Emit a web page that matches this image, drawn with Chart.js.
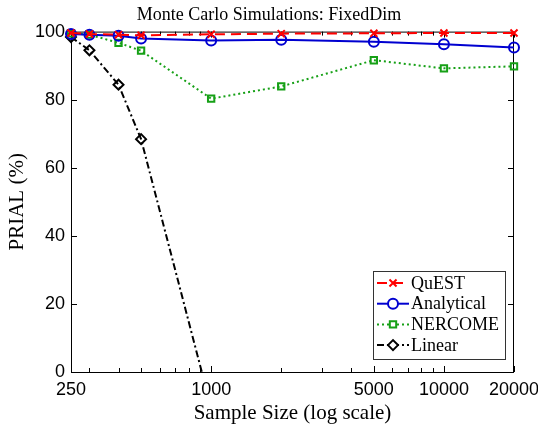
<!DOCTYPE html>
<html>
<head>
<meta charset="utf-8">
<script src="https://cdn.jsdelivr.net/npm/chart.js@4/dist/chart.umd.min.js"></script>
<style>
  html, body { margin: 0; padding: 0; background: #fff; }
  #wrap { width: 538px; height: 431px; }
</style>
</head>
<body>
<div id="wrap"><canvas id="lineChart"></canvas></div>
<script>
// data
const sampleSizes = [250, 300, 400, 500, 1000, 2000, 5000, 10000, 20000];
const quest      = [99.6, 99.3, 99.1, 98.9, 99.2, 99.4, 99.5, 99.6, 99.6];
const analytical = [99.3, 99.1, 98.8, 98.0, 97.4, 97.6, 97.0, 96.3, 95.3];
const nercome    = [99.5, 99.1, 96.7, 94.4, 80.3, 83.9, 91.6, 89.2, 89.8];
const linear     = [98.4, 94.5, 84.4, 68.4, -10.5, null, null, null, null];

const xLabelTicks = [250, 1000, 5000, 10000, 20000];
const xMinorTicks = [300, 400, 500, 600, 700, 800, 900, 2000, 3000, 4000, 6000, 7000, 8000, 9000];
const yTicks = [0, 20, 40, 60, 80, 100];

const serif = '"Liberation Serif", "DejaVu Serif", serif';
const sans = '"Liberation Sans", Arial, sans-serif';

const RED = '#ff0000';
const BLUE = '#0000d0';
const GREEN = '#16a016';
const BLACK = '#000000';

function pts(vals) {
    return sampleSizes.map((s, i) => ({ x: s, y: vals[i] }));
}

// frame + inward ticks, like the original plot
const framePlugin = {
    id: 'frame',
    beforeDatasetsDraw(chart) {
        const { ctx, chartArea: a, scales } = chart;
        ctx.save();
        ctx.strokeStyle = '#000';
        ctx.lineWidth = 1;
        ctx.strokeRect(a.left + 0.5, a.top + 0.5, a.right - a.left - 1, a.bottom - a.top);
        ctx.beginPath();
        yTicks.forEach(v => {
            const y = Math.round(scales.y.getPixelForValue(v)) + 0.5;
            ctx.moveTo(a.left, y); ctx.lineTo(a.left + 6, y);
            ctx.moveTo(a.right, y); ctx.lineTo(a.right - 6, y);
        });
        xLabelTicks.concat(xMinorTicks).forEach(v => {
            const len = xLabelTicks.includes(v) ? 6 : 4;
            const x = Math.round(scales.x.getPixelForValue(v)) + 0.5;
            ctx.moveTo(x, a.bottom); ctx.lineTo(x, a.bottom - len);
            ctx.moveTo(x, a.top); ctx.lineTo(x, a.top + len);
        });
        ctx.stroke();
        ctx.restore();
    }
};

// legend box in the lower right corner
const legendPlugin = {
    id: 'boxLegend',
    afterDraw(chart) {
        const { ctx, chartArea: a } = chart;
        const w = 132, h = 88;
        const left = a.right - 9 - w, top = a.bottom - 13 - h;
        ctx.save();
        ctx.fillStyle = '#fff';
        ctx.fillRect(left, top, w, h);
        ctx.strokeStyle = '#333';
        ctx.lineWidth = 1;
        ctx.strokeRect(left + 0.5, top + 0.5, w, h);
        chart.data.datasets.forEach((ds, i) => {
            const y = top + 12 + i * 20.7;
            ctx.strokeStyle = ds.borderColor;
            ctx.lineWidth = 2;
            ctx.setLineDash(ds.borderDash || []);
            ctx.beginPath();
            ctx.moveTo(left + 4, y);
            ctx.lineTo(left + 36, y);
            ctx.stroke();
            ctx.setLineDash([]);
            ctx.fillStyle = '#fff';
            Chart.helpers.drawPoint(ctx, {
                pointStyle: ds.pointStyle,
                radius: ds.pointRadius,
                borderWidth: ds.pointBorderWidth
            }, left + 20, y);
            ctx.fillStyle = '#000';
            ctx.font = '18px ' + serif;
            ctx.textBaseline = 'middle';
            ctx.fillText(ds.label, left + 38, y + 1);
        });
        ctx.restore();
    }
};

function series(label, vals, color, dash, style, radius) {
    return {
        label: label,
        data: pts(vals),
        borderColor: color,
        backgroundColor: 'rgba(255,255,255,0)',
        pointBackgroundColor: 'rgba(255,255,255,0)',
        pointBorderColor: color,
        borderWidth: 2,
        borderDash: dash,
        pointStyle: style,
        pointRadius: radius,
        pointBorderWidth: 2,
        tension: 0,
        spanGaps: false,
        clip: { left: 10, top: 10, right: 10, bottom: 0 }
    };
}

const ctx = document.getElementById('lineChart').getContext('2d');
const chart = new Chart(ctx, {
    type: 'line',
    data: {
        datasets: [
            series('QuEST', quest, RED, [10, 6], 'crossRot', 5),
            series('Analytical', analytical, BLUE, [], 'circle', 5),
            series('NERCOME', nercome, GREEN, [2, 3], 'rect', 4.5),
            series('Linear', linear, BLACK, [7, 3, 2, 3], 'rectRot', 5)
        ]
    },
    options: {
        responsive: true,
        maintainAspectRatio: false,
        animation: false,
        layout: { padding: 0 },
        plugins: {
            legend: { display: false },
            tooltip: { enabled: false },
            title: {
                display: true,
                text: 'Monte Carlo Simulations: FixedDim',
                color: '#000',
                font: { family: serif, size: 18, weight: 'normal' },
                padding: { top: 4, bottom: 6 }
            }
        },
        scales: {
            x: {
                type: 'logarithmic',
                min: 250,
                max: 20000,
                grid: { display: false, drawTicks: false },
                border: { display: false },
                afterBuildTicks: s => { s.ticks = xLabelTicks.map(v => ({ value: v })); },
                afterFit: s => { s.height = 59; s.paddingLeft = 0; s.paddingRight = 24; },
                ticks: {
                    autoSkip: false,
                    maxRotation: 0,
                    padding: 7,
                    color: '#000',
                    font: { family: sans, size: 18 },
                    callback: v => String(v)
                },
                title: {
                    display: true,
                    text: 'Sample Size (log scale)',
                    color: '#000',
                    font: { family: serif, size: 21 },
                    padding: { top: 5, bottom: 5 }
                }
            },
            y: {
                min: 0,
                max: 100,
                grid: { display: false, drawTicks: false },
                border: { display: false },
                afterBuildTicks: s => { s.ticks = yTicks.map(v => ({ value: v })); },
                afterFit: s => { s.width = 71; s.paddingTop = 0; s.paddingBottom = 0; },
                ticks: {
                    padding: 6,
                    color: '#000',
                    font: { family: sans, size: 18 }
                },
                title: {
                    display: true,
                    text: 'PRIAL (%)',
                    color: '#000',
                    font: { family: serif, size: 21 },
                    padding: { top: 5, bottom: 0 }
                }
            }
        }
    },
    plugins: [framePlugin, legendPlugin]
});
</script>
</body>
</html>
